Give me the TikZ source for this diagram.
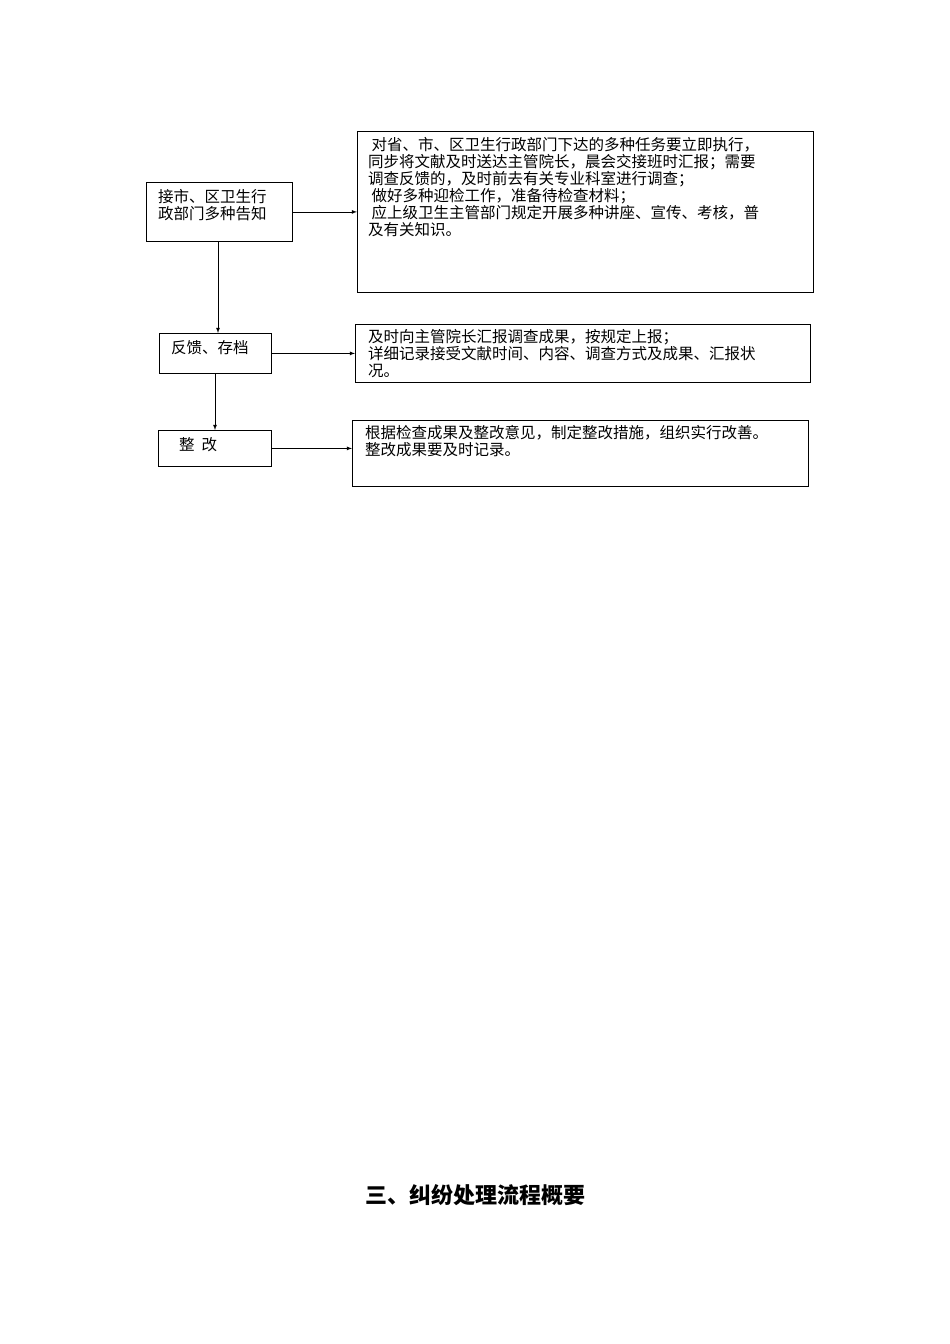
\documentclass[tikz,border=0pt]{standalone}
\usepackage{fontspec}
\setmainfont{Noto Sans CJK SC}
\begin{document}
\begin{tikzpicture}[x=1pt,y=-1pt,
  bx/.style={draw,line width=0.8pt},
  tx/.style={anchor=north west,inner sep=0pt,align=left,font=\fontsize{15.5}{17}\selectfont},
  arr/.style={-latex,line width=0.8pt}]
\useasboundingbox (0,0) rectangle (950,1344);
\node[bx,minimum width=146,minimum height=59,anchor=north west,inner sep=0] (a) at (146,182) {};
\node[tx] at (158,189) {接市、区卫生行\\政部门多种告知};
\node[bx,minimum width=456,minimum height=161,anchor=north west,inner sep=0] (b1) at (357,131) {};
\node[tx] at (368,137) {\ 对省、市、区卫生行政部门下达的多种任务要立即执行，\\同步将文献及时送达主管院长，晨会交接班时汇报；需要\\调查反馈的，及时前去有关专业科室进行调查；\\\ 做好多种迎检工作，准备待检查材料；\\\ 应上级卫生主管部门规定开展多种讲座、宣传、考核，普\\及有关知识。};
\node[bx,minimum width=112,minimum height=40,anchor=north west,inner sep=0] (c) at (159,333) {};
\node[tx] at (171,340) {反馈、存档};
\node[bx,minimum width=455,minimum height=58,anchor=north west,inner sep=0] (b2) at (355,324) {};
\begin{scope}
\clip (356,325) rectangle (809,378);
\node[tx] at (368,329) {及时向主管院长汇报调查成果，按规定上报；\\详细记录接受文献时间、内容、调查方式及成果、汇报状\\况。};
\end{scope}
\node[bx,minimum width=113,minimum height=36,anchor=north west,inner sep=0] (d) at (158,430) {};
\node[tx] at (179,437) {整\ \ 改};
\node[bx,minimum width=456,minimum height=66,anchor=north west,inner sep=0] (b3) at (352,420) {};
\node[tx] at (365,425) {根据检查成果及整改意见，制定整改措施，组织实行改善。\\整改成果要及时记录。};
\draw[arr] (a.east) -- (a.east -| b1.west);
\draw[arr] (c.east) -- (c.east -| b2.west);
\draw[arr] (d.east) -- (d.east -| b3.west);
\draw[arr] (218,241) -- (c.north -| 218,0);
\draw[arr] (215,373) -- (d.north -| 215,0);
\node[font=\fontsize{22}{24}\selectfont\bfseries] (t) at (475,1195) {三、纠纷处理流程概要};
\end{tikzpicture}
\end{document}
